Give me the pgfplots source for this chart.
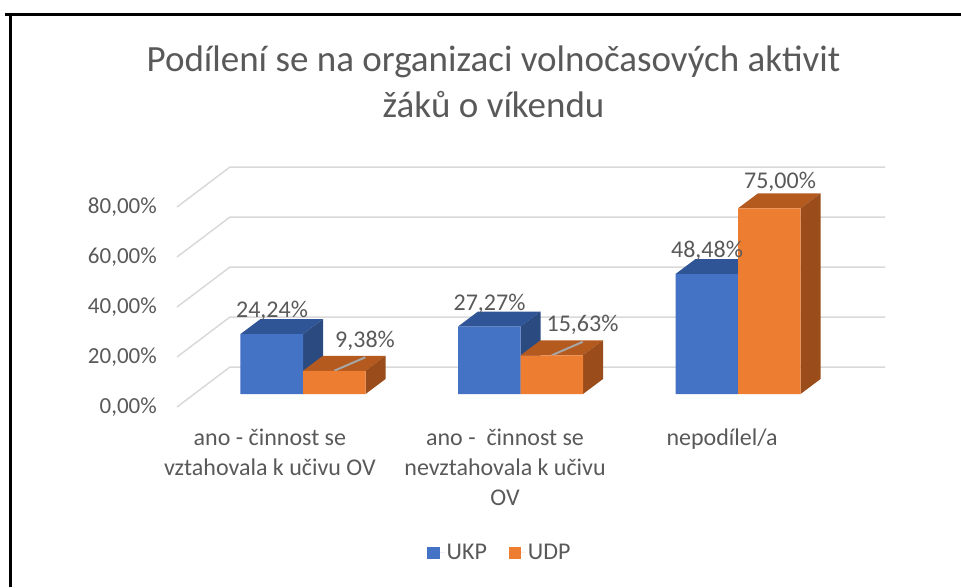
\documentclass[border=0pt]{standalone}
\usepackage{fontspec}
\setmainfont{Carlito}
\usepackage{pgfplots}
\pgfplotsset{compat=1.18}
\usepackage{pgfplotstable}
\definecolor{txt}{HTML}{595959}
\definecolor{ukp}{HTML}{4472C4}
\definecolor{ukptop}{HTML}{2F5597}
\definecolor{ukpside}{HTML}{2A4A80}
\definecolor{udp}{HTML}{ED7D31}
\definecolor{udptop}{HTML}{B55A1F}
\definecolor{udpside}{HTML}{9A4C1A}
\definecolor{gridc}{HTML}{D9D9D9}
\definecolor{leader}{HTML}{A6A6A6}

\pgfplotstableread{
x ukp udp
0 24.24 9.38
1 27.27 15.63
2 48.48 75.00
}\data

\tikzset{lblfont/.style={font=\fontsize{24}{29}\selectfont, text=txt}}
\pgfplotsset{
  face/.style={draw=none, fill=#1, forget plot, mark=none},
  pctlabels/.style={nodes near coords={\pgfmathprintnumber[fixed,fixed zerofill,precision=2,use comma]{\pgfplotspointmeta}\%}},
}

\begin{document}
\begin{tikzpicture}
\path[use as bounding box] (0pt,0pt) rectangle (961pt,-587pt);
\draw[line width=3.2pt] (5pt,-14.3pt) -- (961pt,-14.3pt);
\draw[line width=3.2pt] (10.5pt,-12.7pt) -- (10.5pt,-587pt);
\begin{axis}[
  at={(177pt,-407pt)}, anchor=south west,
  x=217.5pt, y=2.4755pt,
  xmin=-0.5793, xmax=2.676, ymin=-5.25, ymax=91.7,
  clip=false,
  axis line style={draw=none},
  tick style={draw=none},
  major tick length=0pt,
  xtick={-0.152,0.929,1.927},
  xticklabels={{ano - činnost se\\vztahovala k učivu OV},{ano -\ \ činnost se\\nevztahovala k učivu\\OV},{nepodílel/a}},
  xticklabel style={align=center, anchor=north, inner sep=0pt, yshift=-22pt, font=\fontsize{24}{30}\selectfont, text=txt},
  ytick={-5.25,14.95,35.15,55.35,75.54},
  yticklabels={{0,00\%},{20,00\%},{40,00\%},{60,00\%},{80,00\%}},
  yticklabel style={anchor=east, inner sep=0pt, xshift=-20pt, font=\fontsize{23}{28}\selectfont, text=txt},
  title={Podílení se na organizaci volnočasových aktivit\\žáků o víkendu},
  title style={at={(0.447,1.329)}, anchor=center, align=center, font=\fontsize{37}{46}\selectfont, text=txt},
  legend columns=2,
  legend style={draw=none, fill=none, at={(0.456,-0.608)}, anchor=center, lblfont,
    /tikz/every even column/.append style={column sep=20pt}},
  /pgf/number format/assume math mode=true,
]
% gridlines: left wall (front -> back) and back wall
\addplot[gridc, line width=1.5pt, forget plot] coordinates {(-0.5793,-5.25) (-0.3356,10.91) (2.676,10.91)};
\addplot[gridc, line width=1.5pt, forget plot] coordinates {(-0.5793,14.95) (-0.3356,31.11) (2.676,31.11)};
\addplot[gridc, line width=1.5pt, forget plot] coordinates {(-0.5793,35.15) (-0.3356,51.30) (2.676,51.30)};
\addplot[gridc, line width=1.5pt, forget plot] coordinates {(-0.5793,55.35) (-0.3356,71.50) (2.676,71.50)};
\addplot[gridc, line width=1.5pt, forget plot] coordinates {(-0.5793,75.54) (-0.3356,91.70) (2.676,91.70)};

% UKP: depth faces (top, side) then front faces
\addplot[face=ukptop] coordinates {(-0.28736,24.24) (-0.19541,30.30) (0.09195,30.30) (0,24.24)};
\addplot[face=ukpside] coordinates {(0,0) (0.09195,6.06) (0.09195,30.30) (0,24.24)};
\addplot[face=ukptop] coordinates {(0.71264,27.27) (0.80459,33.33) (1.09195,33.33) (1,27.27)};
\addplot[face=ukpside] coordinates {(1,0) (1.09195,6.06) (1.09195,33.33) (1,27.27)};
\addplot[face=ukptop] coordinates {(1.71264,48.48) (1.80459,54.54) (2.09195,54.54) (2,48.48)};
\addplot[face=ukpside] coordinates {(2,0) (2.09195,6.06) (2.09195,54.54) (2,48.48)};
\addplot[ybar, bar width=62.5pt, bar shift=-31.25pt, fill=ukp, draw=none,
  legend image code/.code={\fill[ukp] (0pt,-6pt) rectangle (12.5pt,6pt); \path (0pt,0pt) -- (17.5pt,0pt);},
  pctlabels,
  every node near coord/.append style={anchor=center, xshift=-31pt, yshift=23pt, lblfont},
] table[x=x,y=ukp]{\data};
\addlegendentry{UKP}

% UDP: depth faces, leader lines, front faces
\addplot[face=udptop] coordinates {(0,9.38) (0.09195,15.44) (0.37931,15.44) (0.28736,9.38)};
\addplot[face=udpside] coordinates {(0.28736,0) (0.37931,6.06) (0.37931,15.44) (0.28736,9.38)};
\addplot[face=udptop] coordinates {(1,15.63) (1.09195,21.69) (1.37931,21.69) (1.28736,15.63)};
\addplot[face=udpside] coordinates {(1.28736,0) (1.37931,6.06) (1.37931,21.69) (1.28736,15.63)};
\addplot[face=udptop] coordinates {(2,75) (2.09195,81.06) (2.37931,81.06) (2.28736,75)};
\addplot[face=udpside] coordinates {(2.28736,0) (2.37931,6.06) (2.37931,81.06) (2.28736,75)};
\addplot[leader, line width=2pt, forget plot] coordinates {(0.14368,9.38) (0.28621,14.83)};
\addplot[leader, line width=2pt, forget plot] coordinates {(1.14368,15.63) (1.28621,21.08)};
\addplot[ybar, bar width=62.5pt, bar shift=31.25pt, fill=udp, draw=none,
  legend image code/.code={\fill[udp] (0pt,-6pt) rectangle (12.5pt,6pt); \path (0pt,0pt) -- (17pt,0pt);},
] table[x=x,y=udp]{\data};
\addlegendentry{UDP}
% UDP value labels (small bars: offset to the right with leader line)
\addplot[ybar, bar width=62.5pt, bar shift=31.25pt, fill=none, draw=none, forget plot,
  restrict x to domain=-0.5:1.5, pctlabels,
  every node near coord/.append style={anchor=center, xshift=62pt, yshift=30pt, lblfont},
] table[x=x,y=udp]{\data};
\addplot[ybar, bar width=62.5pt, bar shift=31.25pt, fill=none, draw=none, forget plot,
  restrict x to domain=1.5:2.5, pctlabels,
  every node near coord/.append style={anchor=center, xshift=42pt, yshift=27pt, lblfont},
] table[x=x,y=udp]{\data};
\end{axis}
\end{tikzpicture}
\end{document}
